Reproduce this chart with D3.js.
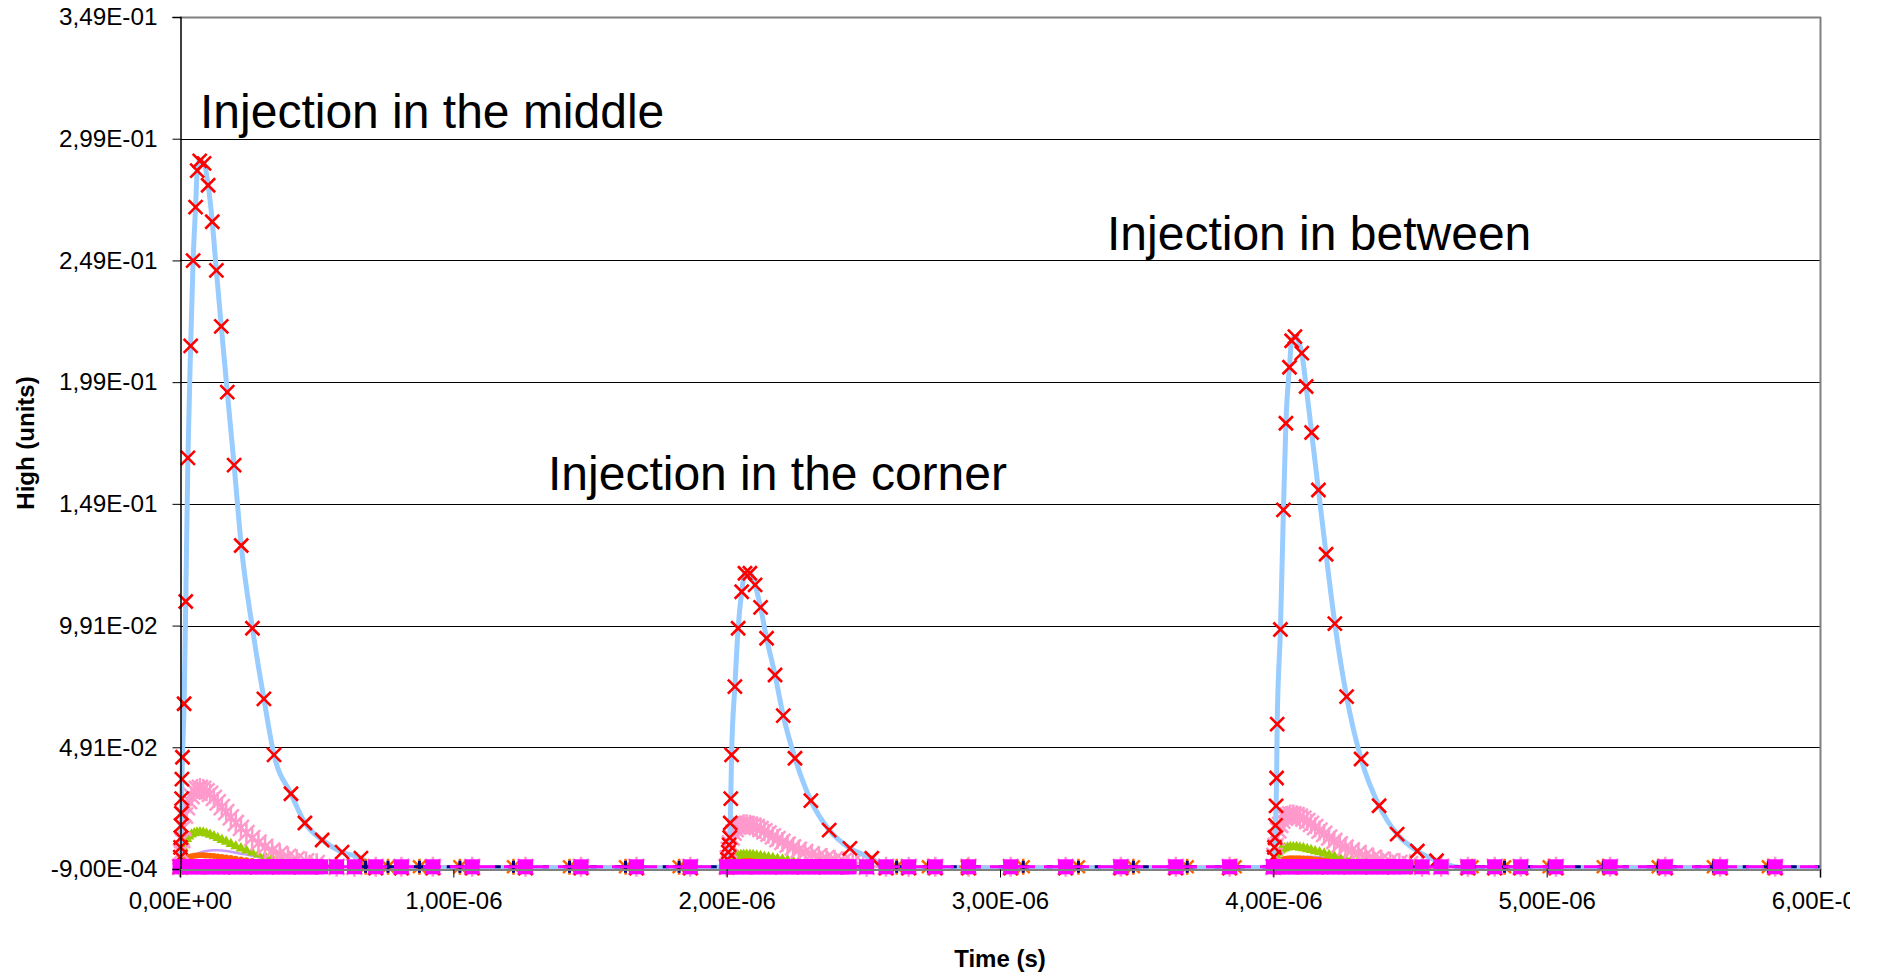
<!DOCTYPE html>
<html><head><meta charset="utf-8">
<script src="https://cdn.jsdelivr.net/npm/d3@7"></script>
<style>
html,body{margin:0;padding:0;background:#fff;}
svg{display:block;font-family:"Liberation Sans",Arial,sans-serif;}
</style></head><body>
<svg id="chart" width="1877" height="976"></svg>
<script>
// ---------------- DATA (time in microseconds) ----------------
const xTickValues = [0, 1, 2, 3, 4, 5, 6];
const xTickLabels = ["0,00E+00","1,00E-06","2,00E-06","3,00E-06","4,00E-06","5,00E-06","6,00E-06"];
const yTickValues = [-0.0009, 0.0491, 0.0991, 0.1491, 0.1991, 0.2491, 0.2991, 0.3491];
const yTickLabels = ["-9,00E-04","4,91E-02","9,91E-02","1,49E-01","1,99E-01","2,49E-01","2,99E-01","3,49E-01"];
const xTitle = "Time (s)";
const yTitle = "High (units)";
const annotations = ["Injection in the middle", "Injection in the corner", "Injection in between"];
const pulseStarts = [0, 2, 4];
const lineEnd = 6.0;

// main series (light blue line, red x markers)
const mainTime = [
  0.000,0.001,0.002,0.003,0.004,0.005,0.006,0.007,0.009,0.015,0.021,0.029,0.039,0.048,0.057,0.063,0.072,0.088,
  0.103,0.118,0.133,0.151,0.173,0.198,0.224,0.265,0.307,0.344,0.406,0.457,0.520,0.593,0.662,
  0.716,0.810,0.925,1.069,1.264,1.467,1.670,1.867,
  2.000,2.003,2.006,2.009,2.011,2.013,2.015,2.018,2.030,2.042,2.055,2.067,2.085,2.104,2.124,2.146,2.177,2.207,
  2.250,2.308,2.375,2.451,2.531,
  2.583,2.666,2.763,2.885,3.039,3.240,3.442,3.643,3.840,
  4.000,4.002,4.004,4.006,4.008,4.010,4.012,4.014,4.026,4.037,4.046,4.059,4.067,4.079,4.104,4.120,4.140,4.165,
  4.193,4.225,4.268,4.321,4.387,4.453,4.527,4.597,
  4.712,4.810,4.905,5.034,5.232,5.434,5.635,5.836
];
const mainValue = [
  0.000,0.004,0.008,0.012,0.017,0.022,0.028,0.036,0.045,0.067,0.109,0.168,0.214,0.249,0.271,0.286,0.290,0.289,
  0.280,0.265,0.245,0.222,0.195,0.165,0.132,0.098,0.069,0.046,0.030,0.018,0.011,0.006,0.0036,
  -0.0005,-0.0005,-0.0005,-0.0005,-0.0005,-0.0005,-0.0005,-0.0005,
  0.000,0.003,0.006,0.009,0.012,0.018,0.028,0.046,0.074,0.098,0.113,0.1206,0.1206,0.1158,0.1066,0.0939,0.0788,0.0621,
  0.0446,0.0272,0.0151,0.0076,0.0035,
  -0.0005,-0.0005,-0.0005,-0.0005,-0.0005,-0.0005,-0.0005,-0.0005,-0.0005,
  0.000,0.004,0.008,0.012,0.017,0.025,0.0365,0.0586,0.0975,0.1466,0.1822,0.2052,0.2161,0.2178,0.211,0.1973,0.1784,0.1548,
  0.1284,0.0999,0.0699,0.0443,0.0251,0.0134,0.0065,0.0025,
  -0.0005,-0.0005,-0.0005,-0.0005,-0.0005,-0.0005,-0.0005,-0.0005
];

// secondary humps, sampled at the same relative times after each injection
const humpRelTime = [0,0.004,0.008,0.012,0.018,0.025,0.033,0.042,0.052,0.062,0.073,0.085,0.097,0.110,0.124,0.138,
  0.153,0.169,0.186,0.204,0.223,0.243,0.264,0.287,0.311,0.337,0.365,0.395,0.427,0.461,0.500];
const pinkP1 = [0,0.006,0.011,0.016,0.021,0.0245,0.027,0.029,0.031,0.032,0.0324,0.032,0.031,0.030,0.0283,0.0265,
  0.0245,0.0225,0.0203,0.018,0.016,0.0138,0.0118,0.0099,0.0082,0.0066,0.0053,0.0041,0.0031,0.0022,0.0015];
const pinkP2 = [0,0.0035,0.007,0.0095,0.012,0.014,0.0155,0.0165,0.017,0.0175,0.0175,0.0173,0.0169,0.0163,0.0155,0.0146,
  0.0136,0.0125,0.0114,0.0102,0.0091,0.008,0.007,0.006,0.0051,0.0043,0.0036,0.0029,0.0023,0.0018,0.0013];
const pinkP3 = [0,0.0045,0.0085,0.012,0.015,0.0172,0.019,0.0202,0.021,0.0215,0.0215,0.0212,0.0206,0.0198,0.0188,0.0176,
  0.0163,0.0149,0.0135,0.012,0.0106,0.0092,0.0079,0.0067,0.0056,0.0046,0.0037,0.0029,0.0022,0.0016,0.0011];
const greenP1 = [0,0.003,0.006,0.008,0.010,0.0115,0.0125,0.0133,0.0138,0.0141,0.0142,0.0141,0.0137,0.0132,0.0126,0.0119,
  0.0111,0.0103,0.0094,0.0085,0.0076,0.0067,0.0059,0.0051,0.0043,0.0036,0.0030,0.0024,0.0019,0.0014,0.0010];
const greenP2 = [0,0.0011,0.0021,0.0028,0.0035,0.0040,0.0044,0.0047,0.0049,0.0050,0.0050,0.0050,0.0049,0.0047,0.0045,0.0042,
  0.0039,0.0036,0.0033,0.0030,0.0027,0.0024,0.0021,0.0018,0.0015,0.0013,0.0011,0.0009,0.0007,0.0005,0.0004];
const greenP3 = [0,0.0017,0.0035,0.0046,0.0058,0.0067,0.0073,0.0077,0.0080,0.0082,0.0082,0.0082,0.0079,0.0077,0.0073,0.0069,
  0.0064,0.0060,0.0055,0.0049,0.0044,0.0039,0.0034,0.0030,0.0025,0.0021,0.0017,0.0014,0.0011,0.0008,0.0006];
const orangeP1 = [0,0.0010,0.0018,0.0025,0.0031,0.0036,0.0040,0.0043,0.0045,0.0046,0.0047,0.0047,0.0046,0.0045,0.0044,0.0042,
  0.0040,0.0038,0.0036,0.0033,0.0030,0.0027,0.0024,0.0021,0.0018,0.0015,0.0013,0.0010,0.0008,0.0006,0.0004];
const orangeP2 = [0,0.0006,0.0010,0.0014,0.0017,0.0020,0.0022,0.0024,0.0025,0.0025,0.0026,0.0026,0.0025,0.0025,0.0024,0.0023,
  0.0022,0.0021,0.0020,0.0018,0.0017,0.0015,0.0013,0.0012,0.0010,0.0008,0.0007,0.0006,0.0004,0.0003,0.0002];
const orangeP3 = [0,0.0008,0.0014,0.0019,0.0023,0.0027,0.0030,0.0032,0.0034,0.0035,0.0035,0.0035,0.0035,0.0034,0.0033,0.0032,
  0.0030,0.0029,0.0027,0.0025,0.0023,0.0020,0.0018,0.0016,0.0014,0.0011,0.0010,0.0008,0.0006,0.0005,0.0003];
const lavP1 = [0,0.0005,0.0010,0.0016,0.0023,0.0030,0.0037,0.0043,0.0049,0.0054,0.0058,0.0062,0.0065,0.0067,0.0068,0.0068,
  0.0067,0.0065,0.0062,0.0058,0.0054,0.0050,0.0045,0.0040,0.0035,0.0030,0.0025,0.0020,0.0016,0.0012,0.0009];
const lavP2 = [0,0.0002,0.0004,0.0006,0.0009,0.0012,0.0015,0.0017,0.0020,0.0022,0.0023,0.0025,0.0026,0.0027,0.0027,0.0027,
  0.0027,0.0026,0.0025,0.0023,0.0022,0.0020,0.0018,0.0016,0.0014,0.0012,0.0010,0.0008,0.0006,0.0005,0.0004];
const lavP3 = [0,0.0003,0.0006,0.0010,0.0014,0.0018,0.0022,0.0026,0.0029,0.0032,0.0035,0.0037,0.0039,0.0040,0.0041,0.0041,
  0.0040,0.0039,0.0037,0.0035,0.0032,0.0030,0.0027,0.0024,0.0021,0.0018,0.0015,0.0012,0.0010,0.0007,0.0005];

// magenta squares at zero (relative times after each injection)
const squareRelP1 = [0,0.02,0.04,0.06,0.08,0.10,0.12,0.14,0.16,0.18,0.20,0.22,0.24,0.26,0.28,0.30,0.32,0.34,0.36,0.38,0.40,
  0.42,0.44,0.46,0.48,0.50,0.515,0.573,0.638,0.716,0.810,0.925,1.069,1.264,1.467,1.670,1.867];
const squareRelP2 = [0,0.02,0.04,0.06,0.08,0.10,0.12,0.14,0.16,0.18,0.20,0.22,0.24,0.26,0.28,0.30,0.32,0.34,0.36,0.38,0.40,
  0.42,0.44,0.448,0.512,0.583,0.666,0.763,0.885,1.039,1.240,1.442,1.643,1.840];
const squareRelP3 = [0,0.02,0.04,0.06,0.08,0.10,0.12,0.14,0.16,0.18,0.20,0.22,0.24,0.26,0.28,0.30,0.32,0.34,0.36,0.38,0.40,
  0.42,0.44,0.46,0.484,0.544,0.614,0.712,0.810,0.905,1.034,1.232,1.434,1.635,1.836];
// the sparse tail of the zero-level series of each pulse
const tailRelP1 = [0.573,0.638,0.716,0.810,0.925,1.069,1.264,1.467,1.670,1.867];
const tailRelP2 = [0.512,0.583,0.666,0.763,0.885,1.039,1.240,1.442,1.643,1.840];
const tailRelP3 = [0.544,0.614,0.712,0.810,0.905,1.034,1.232,1.434,1.635,1.836];
// orange stars / navy plus at zero
const starRelP1 = [0.01,0.09,0.18,0.26,0.34,0.42,0.50,0.679,0.761,0.876,1.024,1.220,1.425,1.630,1.826];
const starRelP2 = [0.01,0.09,0.18,0.26,0.34,0.42,0.622,0.738,0.880,1.085,1.287,1.488,1.685,1.860];
const starRelP3 = [0.01,0.09,0.18,0.26,0.34,0.42,0.50,0.727,0.846,1.009,1.207,1.408,1.610,1.811];

// ---------------- BUILD ----------------
const svg = d3.select("#chart");
svg.append("defs").append("clipPath").attr("id", "chartArea")
  .append("rect").attr("x", 0).attr("y", 0).attr("width", 1850).attr("height", 976);
const root = svg.append("g").attr("clip-path", "url(#chartArea)");

const x = d3.scaleLinear().domain([0, 6]).range([180, 1820]);
const y = d3.scaleLinear().domain([-0.0009, 0.3491]).range([869, 17]);

function humps(vals) {
  const pts = [];
  vals.forEach((v, p) => humpRelTime.forEach((t, i) => pts.push({t: pulseStarts[p] + t, v: v[i]})));
  return pts;
}
function zeros(rels) {
  const pts = [];
  rels.forEach((r, p) => r.forEach(t => pts.push({t: pulseStarts[p] + t, v: 0})));
  return pts;
}
function withTails(vals, tails) {
  const pts = [];
  vals.forEach((v, p) => {
    humpRelTime.forEach((t, i) => pts.push({t: pulseStarts[p] + t, v: v[i]}));
    tails[p].forEach(t => pts.push({t: pulseStarts[p] + t, v: 0}));
  });
  return pts;
}
const tails = [tailRelP1, tailRelP2, tailRelP3];
const mainPts = mainTime.map((t, i) => ({t, v: mainValue[i]}));
const pinkPts = withTails([pinkP1, pinkP2, pinkP3], tails);
const greenPts = humps([greenP1, greenP2, greenP3]);
const orangePts = humps([orangeP1, orangeP2, orangeP3]);
const lavPts = withTails([lavP1, lavP2, lavP3], tails);
const squarePts = zeros([squareRelP1, squareRelP2, squareRelP3]);
const starPts = zeros([starRelP1, starRelP2, starRelP3]);

const extend = pts => pts.concat([{t: lineEnd, v: pts[pts.length - 1].v}]);

// plot background & grid
root.append("rect").attr("x", 180).attr("y", 17).attr("width", 1640).attr("height", 852).attr("fill", "#fff");
root.selectAll("line.grid").data(yTickValues.slice(1)).enter().append("line")
  .attr("x1", 180).attr("x2", 1820)
  .attr("y1", d => Math.round(y(d)) + 0.5).attr("y2", d => Math.round(y(d)) + 0.5)
  .attr("stroke", "#000").attr("stroke-width", 1);

const smooth = d3.line().x(d => x(d.t)).y(d => y(d.v)).curve(d3.curveMonotoneX);
const straight = d3.line().x(d => x(d.t)).y(d => y(d.v));

const crossPath = r => `M${-r},${-r}L${r},${r}M${-r},${r}L${r},${-r}`;
const asteriskPath = r => crossPath(r) + `M0,${-r * 1.25}L0,${r * 1.25}`;
const plusPath = r => `M${-r},0L${r},0M0,${-r}L0,${r}`;
const starBurst = r => crossPath(r * 0.8) + plusPath(r);

const plot = root.append("g");
plot.append("path").attr("d", smooth(extend(lavPts))).attr("fill", "none").attr("stroke", "#CC99FF").attr("stroke-width", 2.5);
plot.selectAll("circle.or").data(orangePts).enter().append("circle")
  .attr("cx", d => x(d.t)).attr("cy", d => y(d.v)).attr("r", 3).attr("fill", "#FF6600");
plot.selectAll("path.gr").data(greenPts).enter().append("path")
  .attr("d", d3.symbol().type(d3.symbolTriangle).size(50)())
  .attr("transform", d => `translate(${x(d.t)},${y(d.v)})`).attr("fill", "#99CC00");
plot.append("path").attr("d", straight(extend(pinkPts))).attr("fill", "none").attr("stroke", "#FF99CC").attr("stroke-width", 3);
plot.selectAll("path.pk").data(pinkPts).enter().append("path")
  .attr("d", asteriskPath(8)).attr("transform", d => `translate(${x(d.t)},${y(d.v)})`)
  .attr("fill", "none").attr("stroke", "#FF99CC").attr("stroke-width", 2.5);
plot.append("path").attr("d", smooth(extend(mainPts))).attr("fill", "none").attr("stroke", "#99CCFF").attr("stroke-width", 5);
plot.selectAll("path.rx").data(mainPts).enter().append("path")
  .attr("d", crossPath(7)).attr("transform", d => `translate(${x(d.t)},${y(d.v)})`)
  .attr("fill", "none").attr("stroke", "#FF0000").attr("stroke-width", 2.6);
plot.selectAll("rect.st").data(starPts).enter().append("rect")
  .attr("x", d => x(d.t) - 4).attr("y", d => y(d.v) - 4).attr("width", 8).attr("height", 8).attr("fill", "#FFCC00");
plot.selectAll("path.st").data(starPts).enter().append("path")
  .attr("d", starBurst(8)).attr("transform", d => `translate(${x(d.t)},${y(d.v)})`)
  .attr("fill", "none").attr("stroke", "#FF6600").attr("stroke-width", 2.5);
plot.append("path").attr("d", straight(extend(starPts))).attr("fill", "none").attr("stroke", "#000080").attr("stroke-width", 3).attr("stroke-dasharray", "6,18");
plot.selectAll("path.pl").data(starPts).enter().append("path")
  .attr("d", plusPath(6)).attr("transform", d => `translate(${x(d.t)},${y(d.v)})`)
  .attr("fill", "none").attr("stroke", "#000080").attr("stroke-width", 3);
plot.append("path").attr("d", straight(extend(squarePts))).attr("fill", "none").attr("stroke", "#FF00FF").attr("stroke-width", 3).attr("stroke-dasharray", "18,9");
plot.selectAll("rect.sq").data(squarePts).enter().append("rect")
  .attr("x", d => x(d.t) - 7.5).attr("y", d => y(d.v) - 7.5).attr("width", 15).attr("height", 15).attr("fill", "#FF00FF");

// frame
root.append("line").attr("x1", 180).attr("x2", 1821).attr("y1", 17.5).attr("y2", 17.5).attr("stroke", "#808080").attr("stroke-width", 2);
root.append("line").attr("x1", 1820.5).attr("x2", 1820.5).attr("y1", 17).attr("y2", 870).attr("stroke", "#808080").attr("stroke-width", 2);

// axes
const fontFam = "'Liberation Sans', Arial, sans-serif";
const yAxis = d3.axisLeft(y).tickValues(yTickValues).tickFormat((d, i) => yTickLabels[i]).tickSize(8).tickPadding(15);
const ya = root.append("g").attr("transform", "translate(180.5,0)").call(yAxis);
ya.select(".domain").attr("stroke", "#000").attr("stroke-width", 1.5);
ya.selectAll(".tick line").attr("stroke", "#000");
ya.selectAll("text").attr("font-size", 24.3).attr("fill", "#000").attr("font-family", fontFam);

const xAxis = d3.axisBottom(x).tickValues(xTickValues).tickFormat((d, i) => xTickLabels[i]).tickSize(8).tickPadding(14);
const xa = root.append("g").attr("transform", "translate(0,869.5)").call(xAxis);
xa.select(".domain").attr("stroke", "#808080").attr("stroke-width", 2);
xa.selectAll(".tick line").attr("stroke", "#000");
xa.selectAll("text").attr("font-size", 24).attr("fill", "#000").attr("font-family", fontFam);

// titles
root.append("text").attr("x", 1000).attr("y", 967).attr("text-anchor", "middle")
  .attr("font-size", 24).attr("font-weight", "bold").text(xTitle);
root.append("text").attr("transform", "translate(34,443) rotate(-90)").attr("text-anchor", "middle")
  .attr("font-size", 24).attr("font-weight", "bold").text(yTitle);

// annotations
const annPos = [[200, 128], [548, 490], [1107, 250]];
annotations.forEach((a, i) => root.append("text").attr("x", annPos[i][0]).attr("y", annPos[i][1])
  .attr("font-size", 48).attr("fill", "#000").text(a));
</script>
</body></html>
